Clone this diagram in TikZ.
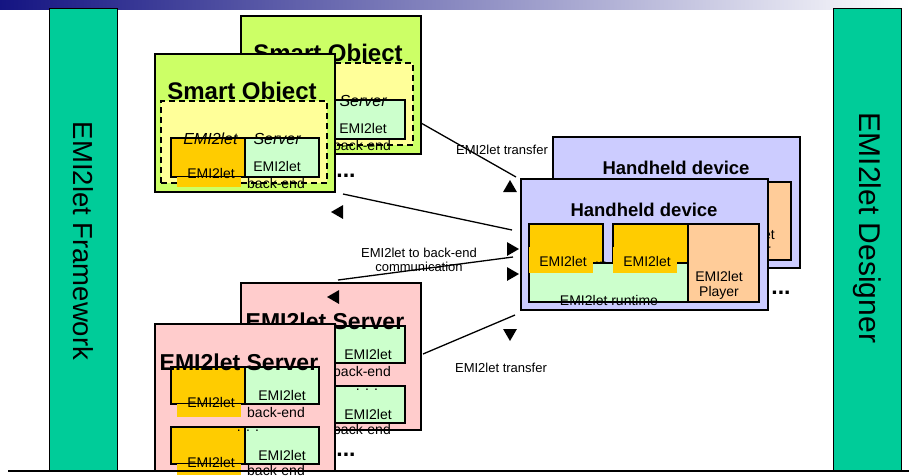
\documentclass[tikz,border=0pt]{standalone}
\usepackage{fontspec}
\setmainfont{Liberation Sans}
\usetikzlibrary{shapes.geometric}

\definecolor{barblue}{RGB}{20,20,130}
\definecolor{emigreen}{HTML}{00CC99}
\definecolor{soyellow}{HTML}{CCFF66}
\definecolor{srvyellow}{HTML}{FFFF99}
\definecolor{bkgreen}{HTML}{CCFFCC}
\definecolor{letorange}{HTML}{FFCC00}
\definecolor{hhblue}{HTML}{CCCCFF}
\definecolor{plorange}{HTML}{FFCC99}
\definecolor{srvpink}{HTML}{FFCCCC}

\tikzset{
  box/.style={draw, line width=1.5pt, inner sep=0pt, outer sep=0pt, anchor=north west},
  dashbox/.style={box, dash pattern=on 6pt off 4pt},
  sidebar/.style={draw, line width=.8pt, fill=emigreen, inner sep=0pt, outer sep=0pt, anchor=north west, minimum width=68pt, minimum height=463pt},
  sidetext/.style={rotate=-90, inner sep=0pt, font=\fontsize{27.5}{30}\selectfont},
  title/.style={inner sep=0pt, font=\bfseries\fontsize{23}{26}\selectfont},
  small/.style={inner sep=0pt, font=\fontsize{14}{16}\selectfont},
  edgetext/.style={inner sep=0pt, font=\fontsize{13}{14}\selectfont, align=center},
  tipmark/.style={isosceles triangle, isosceles triangle apex angle=60, fill=black, inner sep=0pt, minimum size=12pt}
}

\begin{document}
\begin{tikzpicture}[x=1pt,y=-1pt]
\useasboundingbox (0,0) rectangle (909,475);
\shade[left color=barblue, right color=white] (0,0) rectangle (909,9);

% side bars
\node[sidebar] (fw) at (49,8) {};
\node[sidetext] (fwt) at (83,241) {EMI2let Framework};
\node[sidebar] (ds) at (833,8) {};
\node[sidetext, font=\fontsize{30}{33}\selectfont] (dst) at (867,228) {EMI2let Designer};

% smart objects (back, then front)
\foreach \dx/\dy/\n in {86/-38/B, 0/0/A} {
\begin{scope}[shift={(155+\dx,54+\dy)}]
 \node[box, fill=soyellow, minimum width=180pt, minimum height=138pt] (so\n) at (0,0) {};
 \node[title, font=\bfseries\fontsize{24}{27}\selectfont] (so\n-t) at (87,39) {Smart Object};
 \node[dashbox, fill=srvyellow, minimum width=166pt, minimum height=82pt] (so\n-s) at (6,47) {};
 \node[box, fill=letorange, minimum width=74pt, minimum height=39pt] (so\n-l) at (16,84) {};
 \fill[letorange] (22,123) rectangle (86,133);
 \node[box, fill=bkgreen, minimum width=74pt, minimum height=39pt] (so\n-b) at (90,84) {};
 \node[small] (so\n-lt) at (56,119) {EMI2let};
 \node[small] (so\n-bt) at (122,112) {EMI2let};
 \node[small] (so\n-be) at (121,129) {back-end};
 \node[small, font=\itshape\fontsize{16}{18}\selectfont] (so\n-st) at (87,85) {EMI2let\quad Server};
\end{scope}
}
\node[title] (soA-d) at (346,176) {...};

% handheld devices (back, then front)
\foreach \dx/\dy/\n in {32/-42/B, 0/0/A} {
\begin{scope}[shift={(521+\dx,179+\dy)}]
 \node[box, fill=hhblue, minimum width=247pt, minimum height=131pt] (hh\n) at (0,0) {};
 \node[title, font=\bfseries\fontsize{18.5}{21}\selectfont] (hh\n-t) at (123,31) {Handheld device};
 \node[box, fill=bkgreen, minimum width=159pt, minimum height=39pt] (hh\n-r) at (8,84) {};
 \node[box, fill=plorange, minimum width=71pt, minimum height=78pt] (hh\n-p) at (167,45) {};
 \node[box, fill=letorange, minimum width=74pt, minimum height=39pt] (hh\n-l1) at (8,45) {};
 \node[box, fill=letorange, minimum width=75pt, minimum height=39pt] (hh\n-l2) at (92,45) {};
 \fill[letorange] (8,68) rectangle (72,94);
 \fill[letorange] (92,68) rectangle (156,94);
 \node[small] (hh\n-l1t) at (42,82) {EMI2let};
 \node[small] (hh\n-l2t) at (126,82) {EMI2let};
 \node[small] (hh\n-dd) at (80,84) {...};
 \node[small] (hh\n-rt) at (88,121) {EMI2let runtime};
 \node[small] (hh\n-pt) at (198,97) {EMI2let};
 \node[small] (hh\n-pp) at (198,114) {Player};
\end{scope}
}
\node[title] (hhA-d) at (781,293) {...};

% servers (back, then front)
\foreach \dx/\dy/\n/\dotx in {86/-41/B/126, 0/0/A/93} {
\begin{scope}[shift={(155+\dx,324+\dy)}]
 \node[box, fill=srvpink, minimum width=180pt, minimum height=147pt] (sv\n) at (0,0) {};
 \node[box, fill=letorange, minimum width=74pt, minimum height=37pt] (sv\n-l1) at (16,43) {};
 \fill[letorange] (22,80) rectangle (86,93);
 \node[box, fill=bkgreen, minimum width=74pt, minimum height=37pt] (sv\n-b1) at (90,43) {};
 \node[box, fill=letorange, minimum width=74pt, minimum height=37pt] (sv\n-l2) at (16,103) {};
 \fill[letorange] (22,140) rectangle (86,151);
 \node[box, fill=bkgreen, minimum width=74pt, minimum height=37pt] (sv\n-b2) at (90,103) {};
 \node[small] (sv\n-l1t) at (56,78) {EMI2let};
 \node[small] (sv\n-b1t) at (127,71) {EMI2let};
 \node[small] (sv\n-b1e) at (121,88) {back-end};
 \node[small] (sv\n-dd) at (\dotx,107) {. . .};
 \node[small] (sv\n-l2t) at (56,138) {EMI2let};
 \node[small] (sv\n-b2t) at (127,131) {EMI2let};
 \node[small] (sv\n-b2e) at (121,146) {back-end};
 \node[title] (sv\n-t) at (84,38) {EMI2let Server};
\end{scope}
}
\node[title] (svA-d) at (346,455) {...};

% connectors
\coordinate (c1a) at (421,123);
\coordinate (c1b) at (516,177);
\coordinate (c2a) at (343,194);
\coordinate (c2b) at (512,230);
\coordinate (c3a) at (338,280);
\coordinate (c3b) at (513,257);
\coordinate (c4a) at (423,354);
\coordinate (c4b) at (515,315);
\draw[line width=1.3pt] (c1a) -- (c1b);
\draw[line width=1.3pt] (c2a) -- (c2b);
\draw[line width=1.3pt] (c3a) -- (c3b);
\draw[line width=1.3pt] (c4a) -- (c4b);
\node[tipmark, shape border rotate=80] (t1) at (510,188) {};
\node[tipmark, shape border rotate=165] (t2) at (339,212) {};
\node[tipmark, shape border rotate=0] (t3) at (511,249) {};
\node[tipmark, shape border rotate=-15] (t4) at (511,274) {};
\node[tipmark, shape border rotate=160] (t5) at (335,297) {};
\node[tipmark, shape border rotate=-85] (t6) at (510,333) {};
\node[edgetext] (e1) at (502,150) {EMI2let transfer};
\node[edgetext] (e2) at (419,260) {EMI2let to back-end\\communication};
\node[edgetext] (e3) at (501,368) {EMI2let transfer};

\draw[line width=1.2pt] (8,471) -- (909,471);
\end{tikzpicture}
\end{document}
